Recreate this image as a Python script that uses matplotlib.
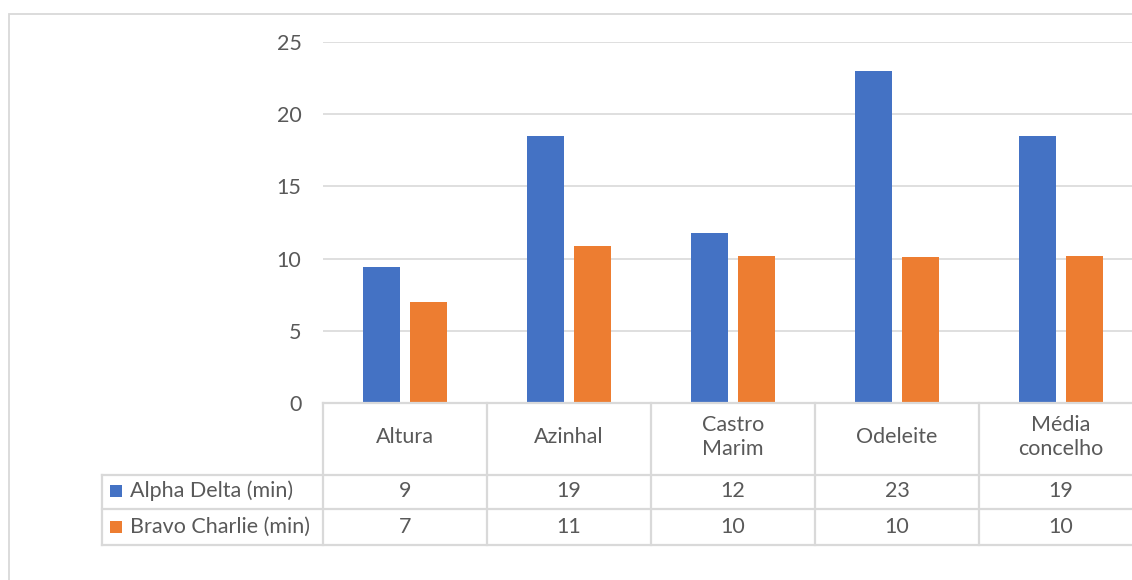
import matplotlib
matplotlib.use("Agg")
import matplotlib.pyplot as plt
import numpy as np
from matplotlib.lines import Line2D
from matplotlib.patches import Rectangle

categories = ["Altura", "Azinhal", "Castro\nMarim", "Odeleite", "Média\nconcelho"]
series_names = ["Alpha Delta (min)", "Bravo Charlie (min)"]
alpha_delta = [9.4, 18.5, 11.75, 23.0, 18.5]
bravo_charlie = [7.0, 10.85, 10.2, 10.1, 10.15]
yticks = [0, 5, 10, 15, 20, 25]

colors = ["#4472C4", "#ED7D31"]
grid_c = "#D9D9D9"
text_c = "#595959"
FONT = ["Lato", "DejaVu Sans"]
FS = 15.5

W, H = 1132, 580
fig = plt.figure(figsize=(W / 100, H / 100), dpi=100)

def fx(px):
    return px / W

def fy(py):
    return 1 - py / H

# plot area in pixels
x0, x1 = 323, 1143
y_top, y_bot = 42, 403
ax = fig.add_axes([fx(x0), fy(y_bot), fx(x1) - fx(x0), (y_bot - y_top) / H])
ax.set_xlim(-0.5, 4.5)
ax.set_ylim(0, 25)
for s in ax.spines.values():
    s.set_visible(False)
ax.set_xticks([])
ax.set_yticks(yticks)
ax.tick_params(axis="y", length=0, pad=15.5, labelsize=FS, labelcolor=text_c)
for lab in ax.get_yticklabels():
    lab.set_family(FONT)
ax.yaxis.grid(True, color=grid_c, linewidth=1.2)
ax.set_axisbelow(True)
ax.patch.set_alpha(0)

x = np.arange(len(categories))
bw = 0.225
off = 0.142
ax.bar(x - off, alpha_delta, width=bw, color=colors[0], zorder=3)
ax.bar(x + off, bravo_charlie, width=bw, color=colors[1], zorder=3)

# chart border
fig.add_artist(Rectangle((fx(8.5), fy(700)), fx(1300), fy(13.5) - fy(700),
                         transform=fig.transFigure, fill=False,
                         edgecolor=grid_c, linewidth=1.3))

def hline(y, xa, xb):
    fig.add_artist(Line2D([fx(xa), fx(xb)], [fy(y), fy(y)], transform=fig.transFigure,
                          color=grid_c, linewidth=1.6))

def vline(xp, ya, yb):
    fig.add_artist(Line2D([fx(xp), fx(xp)], [fy(ya), fy(yb)], transform=fig.transFigure,
                          color=grid_c, linewidth=1.6))

col_w = (x1 - x0) / len(categories)
hline(403, x0, x1)
hline(475, 102, x1)
hline(509, 102, x1)
hline(545, 102, x1)
vline(102, 475, 545)
for i in range(len(categories)):
    vline(x0 + i * col_w, 403, 545)

# header labels
for i, c in enumerate(categories):
    fig.text(fx(x0 + (i + 0.5) * col_w), fy(437), c, ha="center", va="center",
             fontsize=FS, color=text_c, family=FONT, linespacing=1.27)

def excel_round(v):
    return int(np.floor(v + 0.5))

rows = [(491, alpha_delta), (527, bravo_charlie)]
for k, (yc, vals) in enumerate(rows):
    fig.add_artist(Rectangle((fx(110), fy(yc + 6)), fx(12), fy(yc - 6) - fy(yc + 6),
                             transform=fig.transFigure, color=colors[k], linewidth=0))
    fig.text(fx(130), fy(yc), series_names[k], ha="left", va="center",
             fontsize=FS, color=text_c, family=FONT)
    for i, v in enumerate(vals):
        fig.text(fx(x0 + (i + 0.5) * col_w), fy(yc), str(excel_round(v)), ha="center",
                 va="center", fontsize=FS, color=text_c, family=FONT)

fig.savefig("out.png", dpi=100)
